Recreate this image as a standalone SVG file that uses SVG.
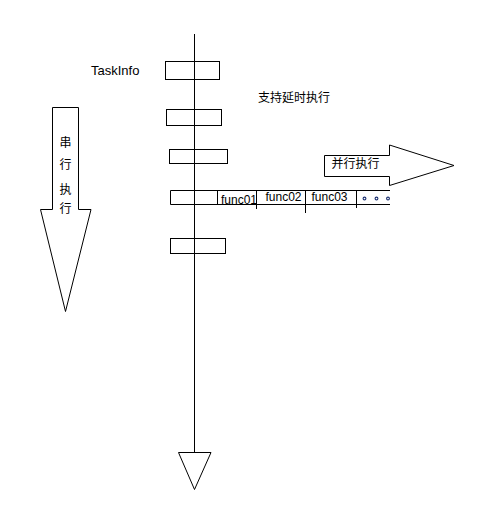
<svg xmlns="http://www.w3.org/2000/svg" width="478" height="532" viewBox="0 0 478 532">
<style>
.s{fill:#fff;stroke:#000;stroke-width:1}
.b{fill:none;stroke:#000;stroke-width:1}
.l{fill:none;stroke:#000;stroke-width:1}
.t{font-family:"Liberation Sans",Arial,sans-serif;font-size:12px;fill:#000}
.c{font-family:"Noto Sans CJK SC","Noto Sans CJK JP",sans-serif;font-size:12px;fill:#000}
</style>
<rect width="478" height="532" fill="#fff"/>
<g id="connectors">
<line class="l" x1="194.5" y1="34" x2="194.5" y2="452.5"/>
</g>
<g id="bottom-arrow"><polygon class="s" points="178.5,452.5 211,452.5 194.5,489.5"/></g>
<g id="taskinfo-label"><text class="t" x="91" y="75" style="font-size:13px">TaskInfo</text></g>
<g id="box1"><rect class="b" x="165.5" y="61.5" width="54" height="18"/></g>
<g id="box2"><rect class="b" x="166.5" y="109.5" width="55" height="16"/></g>
<g id="box3"><rect class="b" x="169.5" y="149.5" width="58" height="14"/></g>
<g id="box4">
<path class="l" d="M390,190.5H170.5V204.5H390"/>
<line class="l" x1="217.5" y1="190.5" x2="217.5" y2="205"/>
<line class="l" x1="256.5" y1="190.5" x2="256.5" y2="209"/>
<line class="l" x1="305.5" y1="190.5" x2="305.5" y2="213"/>
<line class="l" x1="356.5" y1="190.5" x2="356.5" y2="208"/>
<text class="t" x="221" y="203.5">func01</text>
<text class="t" x="265.5" y="200.5">func02</text>
<text class="t" x="311.5" y="201">func03</text>
<circle cx="364.5" cy="198.5" r="1.4" fill="#fff" stroke="#1a2f70" stroke-width="1.1"/>
<circle cx="376.5" cy="198.5" r="1.4" fill="#fff" stroke="#1a2f70" stroke-width="1.1"/>
<circle cx="388" cy="198.5" r="1.4" fill="#fff" stroke="#1a2f70" stroke-width="1.1"/>
</g>
<g id="box5"><rect class="b" x="170.5" y="238.5" width="55" height="15"/></g>
<g id="delay-label"><text class="c" x="258" y="102">支持延时执行</text></g>
<g id="serial-arrow">
<polygon class="s" points="52.5,107.5 78.5,107.5 78.5,209.5 91,209.5 65.5,311.5 40.5,209.5 52.5,209.5"/>
<text class="c" x="65.5" y="147" text-anchor="middle">串</text>
<text class="c" x="65.5" y="169" text-anchor="middle">行</text>
<text class="c" x="65.5" y="193.5" text-anchor="middle">执</text>
<text class="c" x="65.5" y="213" text-anchor="middle">行</text>
</g>
<g id="parallel-arrow">
<polygon class="s" points="324.5,155.5 389.5,155.5 389.5,145 454,165.5 389.5,185.5 389.5,176.5 324.5,176.5"/>
<text class="c" x="331.5" y="168">并行执行</text>
</g>
</svg>
